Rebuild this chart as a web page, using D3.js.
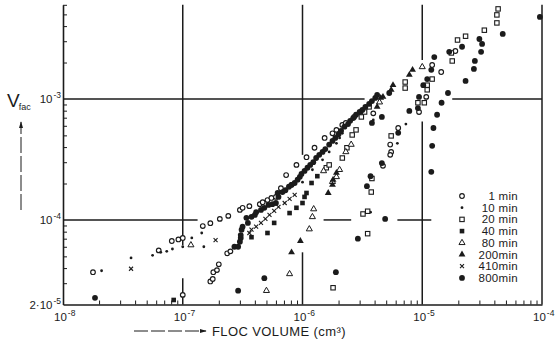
<!DOCTYPE html>
<html>
<head>
<meta charset="utf-8">
<script src="https://cdn.jsdelivr.net/npm/d3@7"></script>
<style>
  html, body { margin: 0; padding: 0; background: #fff; }
  svg { display: block; font-family: 'Liberation Sans', Arial, sans-serif; }
</style>
</head>
<body>
<svg id="chart" width="556" height="341"></svg>
<script>
// ---- data: [floc volume (cm3), V_fac] ----
const xTickValues = [1e-8, 1e-7, 1e-6, 1e-5, 1e-4];
const xTickExponents = ['-8', '-7', '-6', '-5', '-4'];
const yTickValues = [2e-5, 1e-4, 1e-3];
const yTickBases = ['2·10', '10', '10'];
const yTickExponents = ['-5', '-4', '-3'];

const seriesLabels = ['1 min', '10 min', '20 min', '40 min', '80 min', '200min', '410min', '800min'];

const min1 = [[1.78e-8,3.7e-5],[6.3e-8,5.6e-5],[8.1e-8,6.7e-5],[9.2e-8,6.9e-5],[1.0e-7,7.1e-5],[1.0e-7,2.4e-5],
  [1.47e-7,8.9e-5],[1.7e-7,3.1e-5],[1.78e-7,3.25e-5],[1.8e-7,3.7e-5],[1.93e-7,3.85e-5],[2.0e-7,4.3e-5],
  [1.7e-7,9.4e-5],[2.04e-7,1.02e-4],[2.35e-7,5.3e-5],[2.5e-7,5.5e-5],[2.4e-7,1.08e-4],[3.0e-7,1.21e-4],
  [3.16e-7,1.26e-4],[3.6e-7,1.3e-4],[4.4e-7,1.35e-4],[4.65e-7,1.4e-4],[5.1e-7,1.46e-4],[5.5e-7,1.52e-4],
  [6.0e-7,1.55e-4],[6.6e-7,1.83e-4],[7.3e-7,2.35e-4],[8.1e-7,1.95e-4],[8.9e-7,2.85e-4],[1.08e-6,3.3e-4],
  [1.26e-6,3.95e-4],[1.53e-6,4.76e-4],[1.78e-6,5.2e-4],[1.92e-6,5.55e-4],[2.15e-6,6.1e-4],[2.3e-6,6.33e-4],
  [2.7e-6,7.1e-4],[3.9e-6,7.6e-4],[5.4e-6,4.2e-4],[5.5e-6,3.65e-4],[5.4e-6,3.45e-4],[4.7e-6,2.8e-4],
  [6.3e-6,5.75e-4],[9.4e-6,7.8e-4],[1.08e-5,1.04e-3],[1.21e-5,1.91e-3],[1.44e-5,1.67e-3],[1.89e-5,2.49e-3]];

const min10 = [[2.1e-8,3.8e-5],[3.7e-8,4.85e-5],[5.6e-8,5.1e-5],[6.55e-8,5.4e-5],[7.35e-8,5.5e-5],[8.2e-8,5.75e-5],
  [1.0e-7,6.0e-5],[1.19e-7,7.1e-5],[1.44e-7,7.8e-5],[1.5e-7,6.0e-5],[1.0e-6,2.05e-4],[1.21e-6,2.6e-4],
  [1.47e-6,3.14e-4],[1.67e-6,3.65e-4],[1.92e-6,4.3e-4],[2.04e-6,4.76e-4],[2.15e-6,5.2e-4],[3.75e-6,2.15e-4],
  [3.7e-6,1.16e-4],[3.9e-6,6.7e-4],[3.5e-6,8.4e-4],[7.3e-6,6.2e-4],[6.2e-6,4.3e-4]];

const min20 = [[1.58e-6,2.7e-4],[1.67e-6,2.85e-4],[2.15e-6,3.25e-4],[2.35e-6,3.95e-4],[2.6e-6,5.04e-4],
  [2.8e-6,5.55e-4],[3.1e-6,7.1e-4],[3.3e-6,7.8e-4],[3.6e-6,8.6e-4],[1.8e-6,2.75e-5],[3.5e-6,7.7e-5],
  [3.2e-6,1.12e-4],[3.5e-6,1.18e-4],[3.75e-6,1.7e-4],[3.8e-6,2.2e-4],[5.5e-6,4.95e-4],[7.2e-6,1.38e-3],
  [7.2e-6,1.23e-3],[9.2e-6,9.3e-4],[1.04e-5,9.3e-4],[1.1e-5,1.3e-3],[1.1e-5,1.19e-3],[1.21e-5,1.46e-3],
  [1.75e-5,2.4e-3],[1.78e-5,2.06e-3],[1.97e-5,3.07e-3],[2.3e-5,3.3e-3],[3.3e-5,3.7e-3],[4.2e-5,4.25e-3],
  [4.2e-5,4.95e-3],[4.3e-5,5.55e-3]];

const min40 = [[8.4e-8,2.18e-5],[3.75e-7,7.2e-5],[5.1e-7,7.8e-5],[5.8e-7,9.45e-5],[7.8e-7,1.14e-4],
  [8.9e-7,1.26e-4],[1.0e-6,1.38e-4],[1.04e-6,1.55e-4],[1.08e-6,1.67e-4],[1.19e-6,2.02e-4],[1.33e-6,2.3e-4]];

const min80 = [[1.17e-7,6.2e-5],[5.0e-7,2.6e-5],[7.8e-7,3.58e-5],[1.14e-6,8.4e-5],[1.21e-6,1.06e-4],
  [1.24e-6,1.23e-4],[1.5e-6,2.54e-4],[1.78e-6,2.07e-4],[1.92e-6,2.27e-4],[2.04e-6,2.6e-4],[2.3e-6,3.65e-4],
  [2.55e-6,4.2e-4],[4.4e-6,9.4e-4],[1.0e-5,1.84e-3]];

const min200 = [[8.1e-7,5.4e-5],[9.6e-7,6.7e-5],[1.64e-6,1.67e-4],[1.78e-6,1.95e-4],[1.8e-6,2.15e-4],
  [1.92e-6,2.45e-4],[4.2e-6,8.6e-4],[4.5e-6,1.02e-3],[4.7e-6,1.04e-3],[5.5e-6,1.19e-3],[5.7e-6,1.3e-3],
  [7.8e-6,1.58e-3],[8.3e-6,1.74e-3]];

const min410 = [[3.7e-8,3.95e-5],[1.88e-7,6.8e-5],[3.6e-7,7.8e-5],[3.75e-7,8.3e-5],[4.1e-7,8.8e-5],
  [4.5e-7,9.45e-5],[4.9e-7,1.02e-4],[5.3e-7,1.1e-4],[5.8e-7,1.19e-4],[6.3e-7,1.28e-4],[7.1e-7,1.38e-4],
  [7.8e-7,1.49e-4],[8.6e-7,1.61e-4]];

const min800 = [[1.85e-8,2.27e-5],[2.9e-7,2.6e-5],[4.8e-7,3.3e-5],
  [2.7e-7,6.0e-5],[2.9e-7,6.0e-5],[3.0e-7,6.6e-5],[3.05e-7,7.1e-5],[3.05e-7,7.5e-5],[3.1e-7,8.3e-5],
  [3.16e-7,8.8e-5],[3.5e-7,9.45e-5],[3.4e-7,1.04e-4],[3.75e-7,1.06e-4],[4.0e-7,1.1e-4],[4.1e-7,1.16e-4],
  [4.5e-7,1.21e-4],[4.8e-7,1.26e-4],[5.2e-7,1.33e-4],[5.6e-7,1.35e-4],[6.0e-7,1.38e-4],[6.3e-7,1.55e-4],
  [6.2e-7,1.67e-4],[6.8e-7,1.7e-4],[7.2e-7,1.76e-4],[7.7e-7,1.88e-4],[8.1e-7,1.95e-4],[8.6e-7,2.02e-4],
  [9.1e-7,2.15e-4],[9.5e-7,2.27e-4],[9.8e-7,2.4e-4],[1.04e-6,2.54e-4],[1.1e-6,2.7e-4],[1.16e-6,2.85e-4],
  [1.23e-6,3.0e-4],[1.3e-6,3.25e-4],[1.38e-6,3.45e-4],[1.47e-6,3.65e-4],[1.55e-6,3.85e-4],[1.67e-6,4.2e-4],
  [1.78e-6,4.5e-4],[1.88e-6,4.76e-4],[2.0e-6,5.1e-4],[2.1e-6,5.45e-4],[2.24e-6,5.9e-4],[2.4e-6,6.2e-4],
  [2.5e-6,6.6e-4],[2.65e-6,6.95e-4],[2.8e-6,7.4e-4],[3.0e-6,7.8e-4],[3.16e-6,8.1e-4],[3.35e-6,8.6e-4],
  [3.6e-6,9.1e-4],[3.8e-6,9.6e-4],[4.05e-6,1.02e-3],[4.2e-6,1.08e-3],
  [1.9e-6,3.7e-5],[2.9e-6,7.0e-5],[3.45e-6,1.9e-4],[3.7e-6,2.3e-4],[4.9e-6,1.02e-4],
  [1.19e-5,2.5e-4],[1.21e-5,4.1e-4],[1.24e-5,5.75e-4],[1.33e-5,7.4e-4],[1.45e-5,9.3e-4],[1.64e-5,1.12e-3],
  [2.3e-5,1.41e-3],[2.7e-5,1.77e-3],[2.75e-5,2.06e-3],[3.1e-5,2.45e-3],[3.16e-5,2.85e-3],[3.0e-5,3.13e-3],
  [4.7e-5,3.45e-3],[9.6e-5,4.76e-3],
  [4.6e-6,2.95e-4],[6.3e-6,5.25e-4],[7.8e-6,7.96e-4],[9.2e-6,8.4e-4],[9.4e-6,1.04e-3],[1.02e-5,1.3e-3],
  [1.1e-5,1.46e-3],[1.19e-5,1.74e-3],[1.26e-5,2.22e-3],[1.68e-5,2.45e-3],[2.15e-5,2.7e-3],
  [3.8e-6,6.33e-4],[4.6e-6,7.1e-4],[5.3e-6,1.12e-3]];

// ---- layout ----
const svg = d3.select('#chart');
const ink = '#1b1b1b';

const x = d3.scaleLog().domain([1e-8, 1e-4]).range([63, 542]);
const y = d3.scaleLog().domain([2e-5, 6e-3]).range([304.5, 4.8]);

const series = [
  { label: seriesLabels[0], data: min1,   marker: 'circleOpen' },
  { label: seriesLabels[1], data: min10,  marker: 'dot' },
  { label: seriesLabels[2], data: min20,  marker: 'squareOpen' },
  { label: seriesLabels[3], data: min40,  marker: 'square' },
  { label: seriesLabels[4], data: min80,  marker: 'triOpen' },
  { label: seriesLabels[5], data: min200, marker: 'tri' },
  { label: seriesLabels[6], data: min410, marker: 'times' },
  { label: seriesLabels[7], data: min800, marker: 'disc' },
];

// grid lines are broken in the print where they pass the data
const gridVertical = [
  { at: 1e-7, spans: [[2e-5, 3.3e-5], [6.2e-5, 6e-3]] },
  { at: 1e-6, spans: [[2e-5, 5.4e-5], [3.45e-4, 6e-3]] },
  { at: 1e-5, spans: [[2e-5, 6.5e-4], [2.1e-3, 6e-3]] },
  { at: 1e-4, spans: [[2e-5, 6e-3]] },
];
const gridHorizontal = [
  { at: 1e-3, spans: [[1e-8, 3.3e-6], [1.78e-5, 1e-4]] },
  { at: 1e-4, spans: [[1e-8, 1.33e-7], [1.5e-6, 2.55e-6], [6.2e-6, 1.19e-5]] },
];

const grid = svg.append('g').attr('class', 'grid')
  .attr('stroke', ink).attr('stroke-width', 1.5);

gridVertical.forEach(g => g.spans.forEach(s => {
  grid.append('line')
    .attr('x1', x(g.at)).attr('x2', x(g.at))
    .attr('y1', y(s[0])).attr('y2', y(s[1]));
}));
gridHorizontal.forEach(g => g.spans.forEach(s => {
  grid.append('line')
    .attr('x1', x(s[0])).attr('x2', x(s[1]))
    .attr('y1', y(g.at)).attr('y2', y(g.at));
}));

// minor ticks (2..9 of each decade), drawn inwards
const minorX = [];
for (let k = -8; k < -4; k++) for (let m = 2; m <= 9; m++) minorX.push(m * Math.pow(10, k));
const minorY = [];
for (let k = -5; k < -2; k++) for (let m = 2; m <= 9; m++) {
  const v = m * Math.pow(10, k);
  if (v > 2.01e-5 && v <= 6.01e-3) minorY.push(v);
}

const xAxis = d3.axisBottom(x).tickValues(minorX).tickSizeInner(-4).tickSizeOuter(0).tickFormat('');
const yAxis = d3.axisLeft(y).tickValues(minorY).tickSizeInner(-4).tickSizeOuter(0).tickFormat('');

const xAxisG = svg.append('g').attr('transform', `translate(0, ${y(2e-5)})`).call(xAxis);
const yAxisG = svg.append('g').attr('transform', `translate(${x(1e-8)}, 0)`).call(yAxis);
[xAxisG, yAxisG].forEach(g => {
  g.select('.domain').attr('stroke', ink).attr('stroke-width', 1.6);
  g.selectAll('.tick line').attr('stroke', ink).attr('stroke-width', 1);
});

// tick labels with superscript exponents
const labels = svg.append('g').attr('fill', ink).attr('font-size', 11.5);

xTickValues.forEach((v, i) => {
  const t = labels.append('text').attr('x', x(v) - 9).attr('y', 321);
  t.append('tspan').text('10');
  t.append('tspan').attr('font-size', 8.5).attr('dy', -5).attr('dx', 1).text(xTickExponents[i]);
});

yTickValues.forEach((v, i) => {
  const t = labels.append('text').attr('x', 61).attr('y', y(v) + 4).attr('text-anchor', 'end');
  t.append('tspan').text(yTickBases[i]);
  t.append('tspan').attr('font-size', 8.5).attr('dy', -5).attr('dx', 1).text(yTickExponents[i]);
});

// y title: V_fac with upward arrow below it
const yTitle = svg.append('text').attr('x', 7).attr('y', 107).attr('fill', ink).attr('font-size', 19);
yTitle.append('tspan').text('V');
yTitle.append('tspan').attr('font-size', 9).attr('dy', 3).attr('dx', -1).text('fac');

svg.append('defs').append('marker')
  .attr('id', 'arrow').attr('viewBox', '0 0 10 10')
  .attr('refX', 9).attr('refY', 5)
  .attr('markerWidth', 7).attr('markerHeight', 7)
  .attr('orient', 'auto-start-reverse')
  .append('path').attr('d', 'M0,2 L10,5 L0,8 Z').attr('fill', ink);

svg.append('line')
  .attr('x1', 21).attr('x2', 21).attr('y1', 210).attr('y2', 122)
  .attr('stroke', ink).attr('stroke-width', 1)
  .attr('stroke-dasharray', '16 3')
  .attr('marker-end', 'url(#arrow)');

// x title with arrow
svg.append('line')
  .attr('x1', 134).attr('x2', 206).attr('y1', 331).attr('y2', 331)
  .attr('stroke', ink).attr('stroke-width', 1)
  .attr('stroke-dasharray', '14 3')
  .attr('marker-end', 'url(#arrow)');

svg.append('text')
  .attr('x', 212).attr('y', 336)
  .attr('fill', ink).attr('font-size', 13).attr('letter-spacing', 0.4)
  .text('FLOC VOLUME (cm³)');

// markers
function drawMarker(sel, kind) {
  sel.each(function() {
    const g = d3.select(this);
    if (kind === 'circleOpen') {
      g.append('circle').attr('r', 2.3).attr('fill', '#fff').attr('stroke', ink).attr('stroke-width', 1.2);
    } else if (kind === 'dot') {
      g.append('circle').attr('r', 1.4).attr('fill', ink);
    } else if (kind === 'squareOpen') {
      g.append('rect').attr('x', -2.2).attr('y', -2.2).attr('width', 4.4).attr('height', 4.4)
        .attr('fill', '#fff').attr('stroke', ink).attr('stroke-width', 1.1);
    } else if (kind === 'square') {
      g.append('rect').attr('x', -2.3).attr('y', -2.3).attr('width', 4.6).attr('height', 4.6).attr('fill', ink);
    } else if (kind === 'triOpen') {
      g.append('path').attr('d', d3.symbol(d3.symbolTriangle, 16)())
        .attr('fill', '#fff').attr('stroke', ink).attr('stroke-width', 1);
    } else if (kind === 'tri') {
      g.append('path').attr('d', d3.symbol(d3.symbolTriangle, 20)()).attr('fill', ink);
    } else if (kind === 'times') {
      g.append('path').attr('d', 'M-2,-2L2,2M-2,2L2,-2').attr('stroke', ink).attr('stroke-width', 1.1);
    } else if (kind === 'disc') {
      g.append('circle').attr('r', 2.9).attr('fill', ink);
    }
  });
}

const dataLayer = svg.append('g').attr('class', 'data');
series.forEach(s => {
  const pts = dataLayer.append('g').selectAll('g.pt')
    .data(s.data)
    .enter().append('g')
    .attr('class', 'pt')
    .attr('transform', d => `translate(${x(d[0])}, ${y(d[1])})`);
  drawMarker(pts, s.marker);
});

// legend
const legend = svg.append('g').attr('class', 'legend');
series.forEach((s, i) => {
  const rowY = 196 + i * 11.7;
  const sym = legend.append('g').attr('transform', `translate(462, ${rowY})`);
  drawMarker(sym, s.marker);
  legend.append('text')
    .attr('x', 518).attr('y', rowY + 4)
    .attr('text-anchor', 'end')
    .attr('fill', ink).attr('font-size', 11.5)
    .attr('letter-spacing', 0.3)
    .text(s.label);
});
</script>
</body>
</html>
